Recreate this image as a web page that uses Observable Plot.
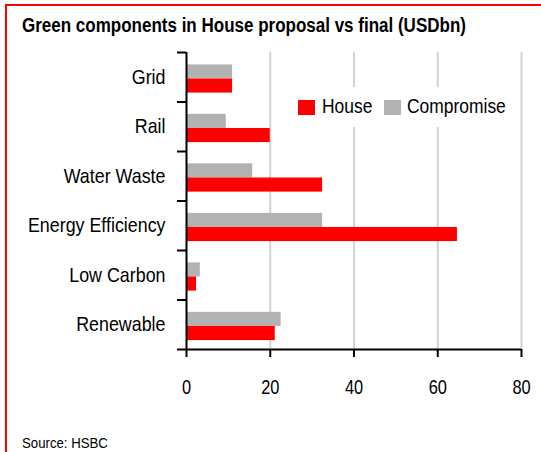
<!DOCTYPE html>
<html>
<head>
<meta charset="utf-8">
<script src="https://cdn.jsdelivr.net/npm/d3@7"></script>
<script src="https://cdn.jsdelivr.net/npm/@observablehq/plot@0.6"></script>
<style>
  html, body { margin: 0; padding: 0; background: #fff; }
  #wrap { position: relative; width: 541px; height: 452px; overflow: hidden; background: #fff;
          font-family: "Liberation Sans", Arial, sans-serif; }
  #wrap svg { position: absolute; left: 0; top: 0; }
  .border-top { position: absolute; left: 5px; top: 4px; width: 536px; height: 2px; background: #ff0000; }
  .border-left { position: absolute; left: 5px; top: 4px; width: 2px; height: 448px; background: #ff0000; }
  .narrow { transform: scaleX(0.83); transform-origin: 0 0; }
  #title { position: absolute; left: 22px; top: 15px; font-size: 20px; font-weight: bold; line-height: 1; color: #000; white-space: nowrap; transform: scaleX(0.85); transform-origin: 0 0; }
  #source { position: absolute; left: 22px; top: 435px; font-size: 15px; line-height: 1; color: #000; white-space: nowrap; transform: scaleX(0.88); transform-origin: 0 0; }
  #legend { position: absolute; left: 292px; top: 87px; width: 224px; height: 40px; background: #fff; }
  .sw { position: absolute; top: 13px; width: 17px; height: 15px; }
  .lt { position: absolute; top: 8px; font-size: 21px; line-height: 1; color: #000; white-space: nowrap; }
</style>
</head>
<body>
<div id="wrap"></div>
<script>
// Data (USDbn)
const categories = ["Grid", "Rail", "Water Waste", "Energy Efficiency", "Low Carbon", "Renewable"];
const house      = [11, 20, 32.5, 64.7, 2.4, 21.2];
const compromise = [11, 9.5, 15.8, 32.5, 3.3, 22.6];
const seriesNames = ["House", "Compromise"];
const seriesColors = ["#ff0000", "#b2b2b2"];
const xTicks = [0, 20, 40, 60, 80];

const rows = [];
categories.forEach((c, i) => {
  rows.push({category: c, idx: i, series: "Compromise", value: compromise[i]});
  rows.push({category: c, idx: i, series: "House", value: house[i]});
});

const bandTop = {"Compromise": 0.25, "House": 0.535};
const bandH = 0.285;

const chart = Plot.plot({
  width: 541,
  height: 452,
  marginTop: 52,
  marginBottom: 103,
  marginLeft: 186,
  marginRight: 20,
  style: {fontFamily: '"Liberation Sans", Arial, sans-serif', background: "transparent"},
  x: {domain: [0, 80], label: null},
  y: {domain: [0, categories.length], reverse: true, label: null},
  color: {domain: seriesNames, range: seriesColors},
  marks: [
    Plot.gridX(xTicks.slice(1), {stroke: "#d3d3d3", strokeOpacity: 1, strokeWidth: 2}),
    Plot.rectX(rows, {
      x1: () => 0, x2: "value",
      y1: d => d.idx + bandTop[d.series],
      y2: d => d.idx + bandTop[d.series] + bandH,
      fill: "series"
    }),
    Plot.ruleX([0], {stroke: "#000", strokeWidth: 2}),
    Plot.ruleY([categories.length], {stroke: "#000", strokeWidth: 2}),
    Plot.axisY(d3.range(categories.length + 1), {
      tickSize: 9, tickFormat: () => "", stroke: "#000", strokeWidth: 2, label: null
    }),
    Plot.axisY(d3.range(categories.length).map(i => i + 0.5), {
      tickSize: 0, tickPadding: 21, fontSize: 21, fill: "#000",
      tickFormat: d => categories[Math.floor(d)], label: null, className: "catlabels"
    }),
    Plot.axisX(xTicks, {
      tickSize: 8, tickPadding: 22, fontSize: 20, fill: "#000", stroke: "#000", strokeWidth: 2, label: null
    })
  ]
});

const wrap = document.getElementById("wrap");
wrap.appendChild(chart);

// Narrow the axis text horizontally (the reference uses a condensed face)
chart.querySelectorAll("text").forEach(t => {
  const len = t.getComputedTextLength();
  if (len > 0) {
    const f = categories.includes(t.textContent) ? 0.85 : 0.82;
    t.setAttribute("textLength", (len * f).toFixed(2));
    t.setAttribute("lengthAdjust", "spacingAndGlyphs");
  }
});

const bt = document.createElement("div"); bt.className = "border-top"; wrap.appendChild(bt);
const bl = document.createElement("div"); bl.className = "border-left"; wrap.appendChild(bl);

const title = document.createElement("div");
title.id = "title";
title.textContent = "Green components in House proposal vs final (USDbn)";
wrap.appendChild(title);

const legend = document.createElement("div");
legend.id = "legend";
const legendPos = [{sw: 6, tx: 30}, {sw: 92, tx: 115}];
seriesNames.forEach((s, i) => {
  const sw = document.createElement("div");
  sw.className = "sw";
  sw.style.left = legendPos[i].sw + "px";
  sw.style.background = seriesColors[i];
  legend.appendChild(sw);
  const t = document.createElement("div");
  t.className = "lt narrow";
  t.style.left = legendPos[i].tx + "px";
  t.textContent = s;
  legend.appendChild(t);
});
wrap.appendChild(legend);

const source = document.createElement("div");
source.id = "source";
source.textContent = "Source: HSBC";
wrap.appendChild(source);
</script>
</body>
</html>
